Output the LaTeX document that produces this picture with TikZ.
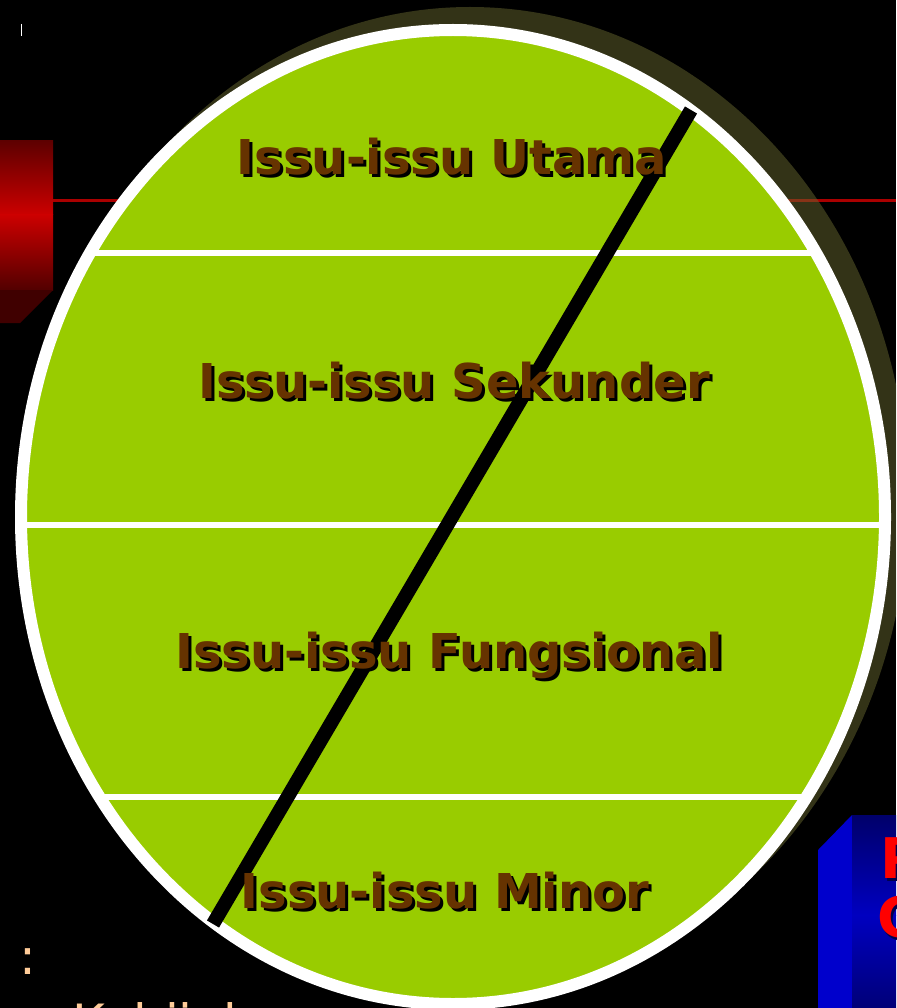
\documentclass[tikz,border=0pt]{standalone}
\usepackage{fontspec}
\setmainfont{DejaVu Sans}
\definecolor{leaf}{HTML}{99CC00}
\definecolor{bark}{HTML}{663300}
\definecolor{peach}{HTML}{FFCC99}
\definecolor{olive}{HTML}{66662F}
\definecolor{blood}{HTML}{AA0000}
\definecolor{redtop}{HTML}{5E0000}
\definecolor{redmid}{HTML}{CC0000}
\definecolor{redlow}{HTML}{520000}
\definecolor{bluetop}{HTML}{00006A}
\definecolor{bluemid}{HTML}{0000C0}
\definecolor{bluelow}{HTML}{000078}

\tikzset{
    issu/.style={font=\bfseries\fontsize{48}{48}\selectfont,text=bark,inner sep=0pt,anchor=base},
    issushade/.style={issu,text=black},
    boxletter/.style={font=\bfseries\fontsize{56}{56}\selectfont,text=red,inner sep=0pt,anchor=base west},
    boxshade/.style={boxletter,text=black!70!blue},
    note/.style={font=\fontsize{50}{50}\selectfont,text=peach,inner sep=0pt}
}

\begin{document}
\begin{tikzpicture}[x=1pt,y=-1pt]
        \useasboundingbox(0,0)rectangle(896,1008);
        \fill[black](0,0)rectangle(896,1008);
        \clip(0,0)rectangle(896,1008);
        \draw[white,line width=1pt](21,24)--(21,36);

        % red block on the left and its rule
        \shade[top color=redtop,bottom color=redmid](0,141)rectangle(53,215);
        \shade[top color=redmid,bottom color=redlow](0,215)rectangle(53,290);
        \fill[red!25!black](0,290)--(53,290)--(20,323)--(0,323)--cycle;
        \draw[blood,line width=3pt](53,201)--(896,201);

        % blue block on the right
        \fill[blue!80!black](818,850)--(852,815)--(852,1008)--(818,1008)--cycle;
        \shade[top color=bluetop,bottom color=bluemid](852,815)rectangle(896,915);
        \shade[top color=bluemid,bottom color=bluelow](852,915)rectangle(896,1008);
        \node[boxshade](p2)at(882,881){P};
        \node[boxletter](p1)at(880,878){P};
        \node[boxshade](c2)at(879,940){C};
        \node[boxletter](c1)at(877,937){C};

        % the ellipse
        \fill[olive,fill opacity=0.5](470,500)ellipse[x radius=438,y radius=493];
        \fill[leaf](453,517)ellipse[x radius=432,y radius=487];
        \begin{scope}
            \clip(453,517)ellipse[x radius=432,y radius=487];
            \draw[white,line width=6pt](0,253)--(896,253);
            \draw[white,line width=6pt](0,525)--(896,525);
            \draw[white,line width=6pt](0,797)--(896,797);
        \end{scope}
        \draw[white,line width=12pt](453,517)ellipse[x radius=432,y radius=487];
        \draw[black,line width=14pt](691,110)--(213,924);

        \node[issushade](u2)at(455,178){Issu-issu Utama};
        \node[issu](u1)at(452,175){Issu-issu Utama};
        \node[issushade](s2)at(457,401){Issu-issu Sekunder};
        \node[issu](s1)at(454,398){Issu-issu Sekunder};
        \node[issushade](f2)at(452,671){Issu-issu Fungsional};
        \node[issu](f1)at(449,668){Issu-issu Fungsional};
        \node[issushade](m2)at(448,911){Issu-issu Minor};
        \node[issu](m1)at(445,908){Issu-issu Minor};

        % cut-off text at the bottom left
        \node[note,anchor=base east](ket)at(37,974){Catatan :};
        \node[note,anchor=base west](keb)at(72,1040){Kebijakan};
    \end{tikzpicture}
\end{document}
